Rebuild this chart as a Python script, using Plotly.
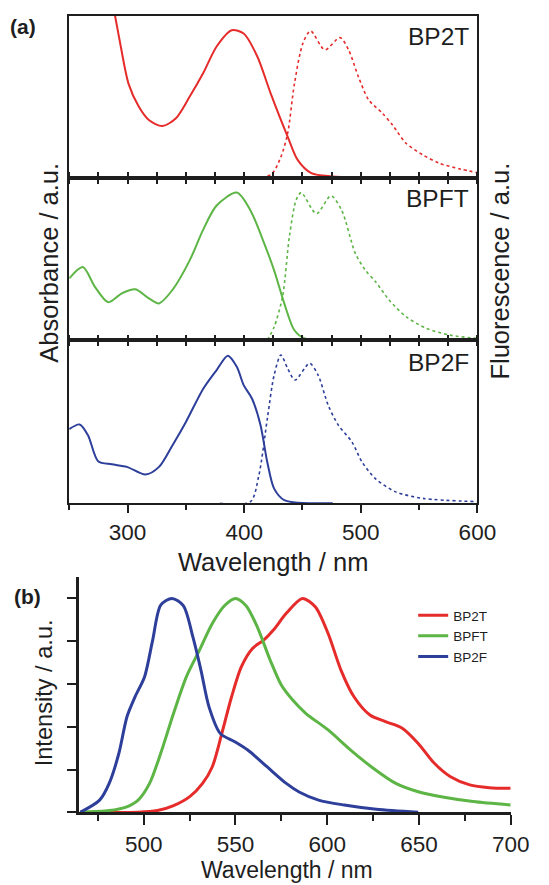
import plotly.graph_objects as go

W, H = 549, 885

# ---------------- Panel (a) data (normalized) ----------------
bp2t_abs_wl = [283, 286, 289.3, 293.7, 300.9, 309.6, 318.3, 329.9, 341.5, 353.2, 364.8, 376.4, 389.4,
               399.6, 411.2, 422.8, 437.3, 446, 457.6, 475, 498]
bp2t_abs = [1.25, 1.12, 1.0, 0.83, 0.58, 0.44, 0.357, 0.32, 0.368, 0.50, 0.645, 0.81, 0.91,
            0.89, 0.75, 0.52, 0.255, 0.11, 0.03, 0.01, 0.005]

bp2t_fl_wl = [399.5, 422.8, 431.5, 437.3, 443.1, 450.4, 457, 469.2, 482.2, 489.5, 498.2, 506.9,
              518.5, 527.2, 538.8, 553.3, 567.8, 585.3, 600]
bp2t_fl = [0, 0.02, 0.13, 0.275, 0.58, 0.83, 0.906, 0.79, 0.865, 0.79, 0.62, 0.48,
           0.40, 0.327, 0.214, 0.142, 0.09, 0.055, 0.033]

bpft_abs_wl = [250, 261.7, 271.9, 283.5, 295.1, 306.7, 318.3, 327, 338.6, 353.2, 364.8, 376.4,
               393.7, 405.4, 417, 425.7, 434.4, 443.1, 451.8, 480.8]
bpft_abs = [0.38, 0.45, 0.33, 0.233, 0.288, 0.313, 0.257, 0.226, 0.31, 0.49, 0.68, 0.83,
            0.91, 0.80, 0.60, 0.43, 0.226, 0.06, 0.01, 0.0]

bpft_fl_wl = [419.9, 425.7, 433, 438.8, 444.6, 448.9, 461.9, 474.4, 483.7, 495.3, 504, 512.7,
              524.3, 538.8, 556.2, 576.5, 600]
bpft_fl = [0, 0.08, 0.27, 0.64, 0.864, 0.91, 0.78, 0.89, 0.80, 0.535, 0.43, 0.36,
           0.247, 0.144, 0.072, 0.03, 0.01]

bp2f_abs_wl = [250, 258.9, 266.1, 274.8, 286.4, 299.5, 315.4, 327, 338.6, 350.2, 364.8, 376.4,
               386, 393.7, 399.6, 406.8, 414, 419.9, 425.7, 434.4, 476]
bp2f_abs = [0.454, 0.483, 0.417, 0.258, 0.239, 0.223, 0.176, 0.223, 0.356, 0.50, 0.70, 0.816,
            0.904, 0.836, 0.724, 0.64, 0.48, 0.25, 0.09, 0.02, 0.0]

bp2f_fl_wl = [379.3, 405.4, 412.6, 419.9, 425.7, 431.5, 437.3, 443.7, 456.1, 463.4, 472.1, 480.8,
              492.4, 501.1, 512.7, 530, 553.3, 600]
bp2f_fl = [0, 0.01, 0.17, 0.52, 0.785, 0.908, 0.826, 0.755, 0.857, 0.785, 0.60, 0.478,
           0.376, 0.253, 0.15, 0.07, 0.03, 0.01]

# ---------------- Panel (b) data (normalized PL) ----------------
b_bp2t_wl = [465.4, 497, 507.5, 516.3, 525.1, 532.1, 537.4, 542.6, 547.9, 553.2, 559.3, 565.4,
             570.7, 577.7, 586.5, 593.5, 600.5, 607.5, 614.6, 623.3, 632.1, 640.9, 649.6,
             658.4, 667.2, 677.7, 688.3, 700]
b_bp2t = [0, 0.0, 0.008, 0.031, 0.073, 0.135, 0.213, 0.369, 0.54, 0.68, 0.766, 0.805,
          0.852, 0.93, 1.0, 0.961, 0.836, 0.665, 0.54, 0.455, 0.423, 0.393, 0.322,
          0.229, 0.166, 0.128, 0.115, 0.112]

b_bpft_wl = [465.4, 481.2, 490, 497, 503.2, 509.3, 516.3, 523.3, 530.4, 537.4, 544.4, 550,
             555.8, 561.9, 568.9, 575, 581.2, 588.3, 600.5, 612.8, 625.1, 637.4, 649.6,
             663.7, 679.5, 700]
b_bpft = [0, 0.008, 0.023, 0.057, 0.135, 0.276, 0.463, 0.634, 0.758, 0.883, 0.969, 1.0,
          0.966, 0.867, 0.712, 0.595, 0.525, 0.463, 0.385, 0.291, 0.206, 0.135, 0.096,
          0.07, 0.05, 0.034]

b_bp2f_wl = [465.4, 476, 481.2, 486.5, 490.9, 495.3, 500.5, 504.9, 509.3, 515.4, 521.6, 526.8,
             531.2, 535.6, 541.7, 549.6, 556.7, 567.2, 577.7, 584.7, 595.3, 609.3, 626.8, 649.6]
b_bp2f = [0, 0.057, 0.135, 0.276, 0.447, 0.54, 0.634, 0.805, 0.969, 1.0, 0.966, 0.82,
          0.665, 0.493, 0.369, 0.33, 0.291, 0.213, 0.135, 0.095, 0.057, 0.034, 0.014, 0.0]

names = ["BP2T", "BPFT", "BP2F"]
RED, GREEN, BLUE = "#e62b2b", "#5cb545", "#2d3f9a"
TXT = "#1e1e1e"
FONT = "Liberation Sans, Arial, sans-serif"


def px(x):
    return x / W


def py(y):
    return 1 - y / H


fig = go.Figure()

# panel (a) traces
panel_a = [
    (bp2t_abs_wl, bp2t_abs, bp2t_fl_wl, bp2t_fl, RED, "x", "y", "x"),
    (bpft_abs_wl, bpft_abs, bpft_fl_wl, bpft_fl, GREEN, "x2", "y2", "x2"),
    (bp2f_abs_wl, bp2f_abs, bp2f_fl_wl, bp2f_fl, BLUE, "x3", "y3", "x4"),
]
for i, (aw, av, fw, fv, col, xa, ya, xf) in enumerate(panel_a):
    fig.add_trace(go.Scatter(x=aw, y=av, mode="lines", xaxis=xa, yaxis=ya, showlegend=False,
                             line=dict(color=col, width=2, shape="spline", smoothing=0.8),
                             name=names[i] + " abs"))
    fig.add_trace(go.Scatter(x=fw, y=fv, mode="lines", xaxis=xf, yaxis=ya, showlegend=False,
                             line=dict(color=col, width=1.6, dash="dot", shape="spline", smoothing=0.8),
                             name=names[i] + " fl"))

# panel (b) traces
for wl, v, col, nm in [(b_bp2t_wl, b_bp2t, RED, "BP2T"), (b_bpft_wl, b_bpft, GREEN, "BPFT"),
                       (b_bp2f_wl, b_bp2f, BLUE, "BP2F")]:
    fig.add_trace(go.Scatter(x=wl, y=v, mode="lines", xaxis="x5", yaxis="y5", name=nm,
                             line=dict(color=col, width=3, shape="spline", smoothing=0.8)))

ax_dom = [px(71.7), px(494.5)]
LINE = dict(showline=True, linecolor=TXT, linewidth=2, showgrid=False, zeroline=False)

def xa_boundary(anchor, mirror):
    d = dict(domain=ax_dom, anchor=anchor, range=[250, 600], ticks="outside", ticklen=4,
             tickwidth=1.5, tickcolor=TXT, tick0=250, dtick=25, showticklabels=False, mirror=mirror)
    d.update(LINE)
    return d

def ya(dom, anchor):
    d = dict(domain=dom, anchor=anchor, range=[0, 1], ticks="", showticklabels=False, mirror=True)
    d.update(LINE)
    return d

xaxis3 = dict(domain=ax_dom, anchor="y3", range=[250, 600], ticks="outside", ticklen=8,
              tickwidth=1.5, tickcolor=TXT, tick0=0, dtick=100, mirror=True,
              tickfont=dict(size=22.5, color=TXT, family=FONT),
              minor=dict(ticks="outside", ticklen=5, tickwidth=1.5, tickcolor=TXT, tick0=250, dtick=50))
xaxis3.update(LINE)

xaxis4 = dict(overlaying="x3", anchor="y3", side="top", range=[250, 600], ticks="outside",
              ticklen=4, tickwidth=1.5, tickcolor=TXT, tick0=250, dtick=25, showticklabels=False,
              showline=False, showgrid=False, zeroline=False)

xaxis5 = dict(domain=[px(82.3), px(529)], anchor="y5", range=[465, 700], ticks="outside",
              ticklen=10, tickwidth=2, tickcolor=TXT, tick0=500, dtick=50,
              tickfont=dict(size=22.5, color=TXT, family=FONT),
              minor=dict(ticks="outside", ticklen=6, tickwidth=2, tickcolor=TXT, tick0=475, dtick=25),
              showline=True, linecolor=TXT, linewidth=2.5, showgrid=False, zeroline=False)
yaxis5 = dict(domain=[py(812.3), py(577)], anchor="x5", range=[0, 1.1], ticks="outside",
              ticklen=10, tickwidth=2, tickcolor=TXT, tickvals=[0, 0.2, 0.4, 0.6, 0.8, 1.0],
              showticklabels=False, showline=True, linecolor=TXT, linewidth=2.5,
              showgrid=False, zeroline=False)

annos = [
    dict(text="<b>(a)</b>", x=px(24), y=py(27), size=21),
    dict(text="<b>(b)</b>", x=px(28), y=py(596), size=21),
    dict(text="BP2T", x=px(488), y=py(36.5), size=24.5, xanchor="right"),
    dict(text="BPFT", x=px(488), y=py(198.5), size=24.5, xanchor="right"),
    dict(text="BP2F", x=px(488), y=py(362), size=24.5, xanchor="right"),
    dict(text="Absorbance / a.u.", x=px(50.5), y=py(263), size=25.5, angle=-90),
    dict(text="Fluorescence / a.u.", x=px(517.5), y=py(271), size=25.5, angle=-90),
    dict(text="Wavelength / nm", x=px(283), y=py(561.7), size=25.5),
    dict(text="Intensity / a.u.", x=px(45.6), y=py(693.3), size=23.6, angle=-90),
    dict(text="Wavelength / nm", x=px(297), y=py(870), size=23),
]
annotations = []
for a in annos:
    annotations.append(dict(text=a["text"], x=a["x"], y=a["y"], xref="paper", yref="paper",
                            showarrow=False, xanchor=a.get("xanchor", "center"), yanchor="middle",
                            textangle=a.get("angle", 0),
                            font=dict(size=a["size"], color=TXT, family=FONT)))

fig.update_layout(
    width=W, height=H, margin=dict(l=0, r=0, t=0, b=0),
    paper_bgcolor="white", plot_bgcolor="white",
    font=dict(family=FONT, color=TXT),
    xaxis=xa_boundary("y", True),
    xaxis2=xa_boundary("y2", "ticks"),
    xaxis3=xaxis3,
    xaxis4=xaxis4,
    xaxis5=xaxis5,
    yaxis=ya([py(178), py(15.7)], "x"),
    yaxis2=ya([py(340), py(178)], "x2"),
    yaxis3=ya([py(503.3), py(340)], "x3"),
    yaxis5=yaxis5,
    annotations=annotations,
    showlegend=True,
    legend=dict(x=px(428), y=py(600), xanchor="left", yanchor="top", bgcolor="rgba(0,0,0,0)",
                font=dict(size=13.5, color=TXT, family=FONT), itemwidth=30, tracegroupgap=0),
)

fig.write_html("out.html", config={"displayModeBar": False},
               post_script="document.body.style.margin='0';document.body.style.overflow='hidden';")
